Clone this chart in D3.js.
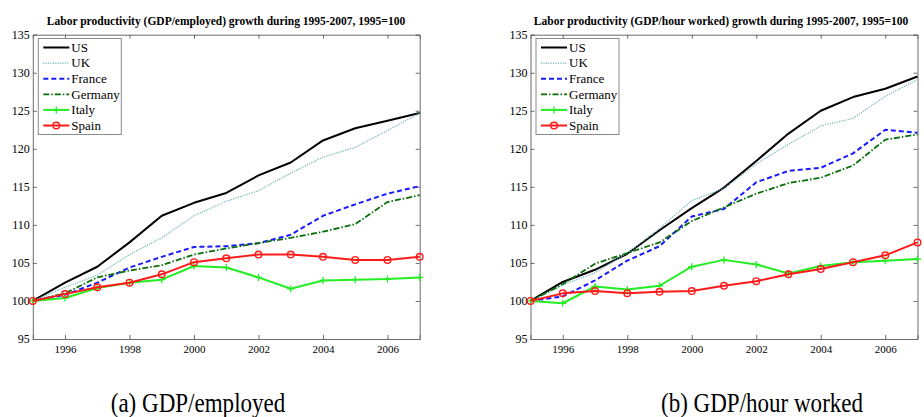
<!DOCTYPE html>
<html>
<head>
<meta charset="utf-8">
<script src="https://cdn.jsdelivr.net/npm/d3@7/dist/d3.min.js"></script>
<style>
  html, body { margin: 0; padding: 0; background: #fff; }
  svg { display: block; }
</style>
</head>
<body>
<svg id="fig" width="924" height="417"></svg>
<script>
// Years on the horizontal axis
const years = [1995, 1996, 1997, 1998, 1999, 2000, 2001, 2002, 2003, 2004, 2005, 2006, 2007];
const countries = ["US", "UK", "France", "Germany", "Italy", "Spain"];
const xTickYears = [1996, 1998, 2000, 2002, 2004, 2006];
const yTickValues = [95, 100, 105, 110, 115, 120, 125, 130, 135];

// Index values, GDP per employed person (1995 = 100)
const usEmployed      = [100, 102.4, 104.5, 107.7, 111.2, 112.9, 114.2, 116.5, 118.2, 121.1, 122.7, 123.7, 124.7];
const ukEmployed      = [100, 101.8, 103.4, 106.1, 108.3, 111.2, 113.1, 114.5, 116.8, 118.9, 120.2, 122.4, 124.7];
const franceEmployed  = [100, 100.8, 102.4, 104.4, 105.8, 107.1, 107.2, 107.6, 108.7, 111.2, 112.7, 114.1, 115.1];
const germanyEmployed = [100, 101.0, 103.1, 104.0, 104.7, 106.1, 106.9, 107.6, 108.3, 109.1, 110.1, 113.0, 113.9];
const italyEmployed   = [100, 100.4, 101.7, 102.4, 102.8, 104.6, 104.4, 103.1, 101.6, 102.7, 102.8, 102.9, 103.1];
const spainEmployed   = [100, 100.9, 101.8, 102.4, 103.5, 105.1, 105.6, 106.1, 106.1, 105.8, 105.4, 105.4, 105.8];

// Index values, GDP per hour worked (1995 = 100)
const usHour      = [100, 102.5, 104.1, 106.2, 109.3, 112.2, 114.9, 118.4, 122.0, 125.0, 126.8, 127.9, 129.5];
const ukHour      = [100, 102.1, 103.7, 106.3, 109.5, 113.2, 114.8, 118.0, 120.6, 123.0, 124.0, 126.9, 129.1];
const franceHour  = [100, 100.6, 102.7, 105.3, 107.2, 111.1, 112.1, 115.6, 117.1, 117.5, 119.4, 122.5, 122.1];
const germanyHour = [100, 102.2, 104.9, 106.3, 107.7, 110.5, 112.3, 114.1, 115.5, 116.2, 117.8, 121.2, 121.9];
const italyHour   = [100, 99.7, 101.9, 101.5, 102.0, 104.5, 105.4, 104.8, 103.6, 104.6, 105.1, 105.3, 105.5];
const spainHour   = [100, 101.0, 101.3, 101.0, 101.2, 101.3, 102.0, 102.6, 103.5, 104.2, 105.1, 106.0, 107.7];

const titles = [
  "Labor productivity (GDP/employed) growth during 1995-2007, 1995=100",
  "Labor productivity (GDP/hour worked) growth during 1995-2007, 1995=100"
];
const captions = ["(a) GDP/employed", "(b) GDP/hour worked"];

const SERIF = "'Liberation Serif', 'Times New Roman', 'DejaVu Serif', serif";

// Line styles per country
const styles = {
  US:      { color: "#000000", width: 2,   dash: null,        marker: null },
  UK:      { color: "#6fb3bb", width: 1.2, dash: "1.2,1.2",   marker: null },
  France:  { color: "#1a1aff", width: 2,   dash: "5,3",       marker: null },
  Germany: { color: "#0a6e0a", width: 1.8, dash: "6,2,1.5,2", marker: null },
  Italy:   { color: "#22ee22", width: 2,   dash: null,        marker: "plus" },
  Spain:   { color: "#ff1a1a", width: 2,   dash: null,        marker: "circle" }
};

const panels = [
  {
    left: 32.8, right: 419.7, top: 34.7, bottom: 339,
    title: titles[0], titleX: 226, caption: captions[0], captionX: 198,
    series: [usEmployed, ukEmployed, franceEmployed, germanyEmployed, italyEmployed, spainEmployed]
  },
  {
    left: 530.5, right: 917.5, top: 34.7, bottom: 339,
    title: titles[1], titleX: 721, caption: captions[1], captionX: 762,
    series: [usHour, ukHour, franceHour, germanyHour, italyHour, spainHour]
  }
];

const svg = d3.select("#fig");
svg.append("rect").attr("width", 924).attr("height", 417).attr("fill", "#fff");

function drawMarker(g, kind, cx, cy, color) {
  if (kind === "plus") {
    g.append("path")
      .attr("d", `M${cx - 3.5},${cy}H${cx + 3.5}M${cx},${cy - 3.5}V${cy + 3.5}`)
      .attr("stroke", color).attr("stroke-width", 1.3).attr("fill", "none");
  } else if (kind === "circle") {
    g.append("circle").attr("cx", cx).attr("cy", cy).attr("r", 3.3)
      .attr("stroke", color).attr("stroke-width", 1.4).attr("fill", "none");
  }
}

panels.forEach(p => {
  const x = d3.scaleLinear().domain([1995, 2007]).range([p.left, p.right]);
  const y = d3.scaleLinear().domain([95, 135]).range([p.bottom, p.top]);
  const g = svg.append("g");

  // Frame and inward ticks on all four sides
  const axisColor = "#6b6b6b";
  const bottomAxis = g.append("g").attr("transform", `translate(0,${p.bottom})`)
    .call(d3.axisBottom(x).tickValues(xTickYears).tickFormat(d3.format("d")).tickSize(-4).tickPadding(6));
  const topAxis = g.append("g").attr("transform", `translate(0,${p.top})`)
    .call(d3.axisTop(x).tickValues(xTickYears).tickFormat("").tickSize(-4));
  const leftAxis = g.append("g").attr("transform", `translate(${p.left},0)`)
    .call(d3.axisLeft(y).tickValues(yTickValues).tickSize(-4).tickPadding(3));
  const rightAxis = g.append("g").attr("transform", `translate(${p.right},0)`)
    .call(d3.axisRight(y).tickValues(yTickValues).tickFormat("").tickSize(-4));
  [bottomAxis, topAxis, leftAxis, rightAxis].forEach(a => {
    a.attr("font-family", null);
    a.select(".domain").attr("stroke", axisColor).attr("stroke-width", 1);
    a.selectAll(".tick line").attr("stroke", axisColor);
    a.selectAll(".tick text").style("font-family", SERIF).attr("fill", "#000");
  });
  bottomAxis.selectAll(".tick text").style("font-size", "11px");
  leftAxis.selectAll(".tick text").style("font-size", "12px");

  // Lines and markers
  const line = d3.line().x((d, i) => x(years[i])).y(d => y(d));
  countries.forEach((c, k) => {
    const s = styles[c];
    const vals = p.series[k];
    g.append("path").datum(vals)
      .attr("d", line)
      .attr("fill", "none")
      .attr("stroke", s.color)
      .attr("stroke-width", s.width)
      .attr("stroke-dasharray", s.dash)
      .attr("stroke-linejoin", "round");
    if (s.marker) {
      vals.forEach((v, i) => drawMarker(g, s.marker, x(years[i]), y(v), s.color));
    }
  });

  // Legend box
  const lx = p.left + 5.5, ly = 38.5, lw = 83, lh = 96;
  const lg = g.append("g");
  lg.append("rect").attr("x", lx).attr("y", ly).attr("width", lw).attr("height", lh)
    .attr("fill", "#fff").attr("stroke", "#8a8a8a").attr("stroke-width", 1);
  countries.forEach((c, k) => {
    const s = styles[c];
    const yy = ly + 9 + k * 15.6;
    lg.append("line").attr("x1", lx + 5).attr("x2", lx + 31).attr("y1", yy).attr("y2", yy)
      .attr("stroke", s.color).attr("stroke-width", s.width).attr("stroke-dasharray", s.dash);
    if (s.marker) drawMarker(lg, s.marker, lx + 18, yy, s.color);
    lg.append("text").attr("x", lx + 33).attr("y", yy + 4.2)
      .style("font-family", SERIF).style("font-size", "13px").text(c);
  });

  // Title
  svg.append("text").attr("x", p.titleX).attr("y", 24.5)
    .attr("text-anchor", "middle")
    .style("font-family", SERIF).style("font-weight", "bold").style("font-size", "11.5px")
    .text(p.title);

  // Sub-figure caption, slightly tall glyphs
  svg.append("text")
    .attr("transform", `translate(${p.captionX},412) scale(0.96,1.12)`)
    .attr("text-anchor", "middle")
    .style("font-family", SERIF).style("font-size", "24px")
    .text(p.caption);
});
</script>
</body>
</html>
